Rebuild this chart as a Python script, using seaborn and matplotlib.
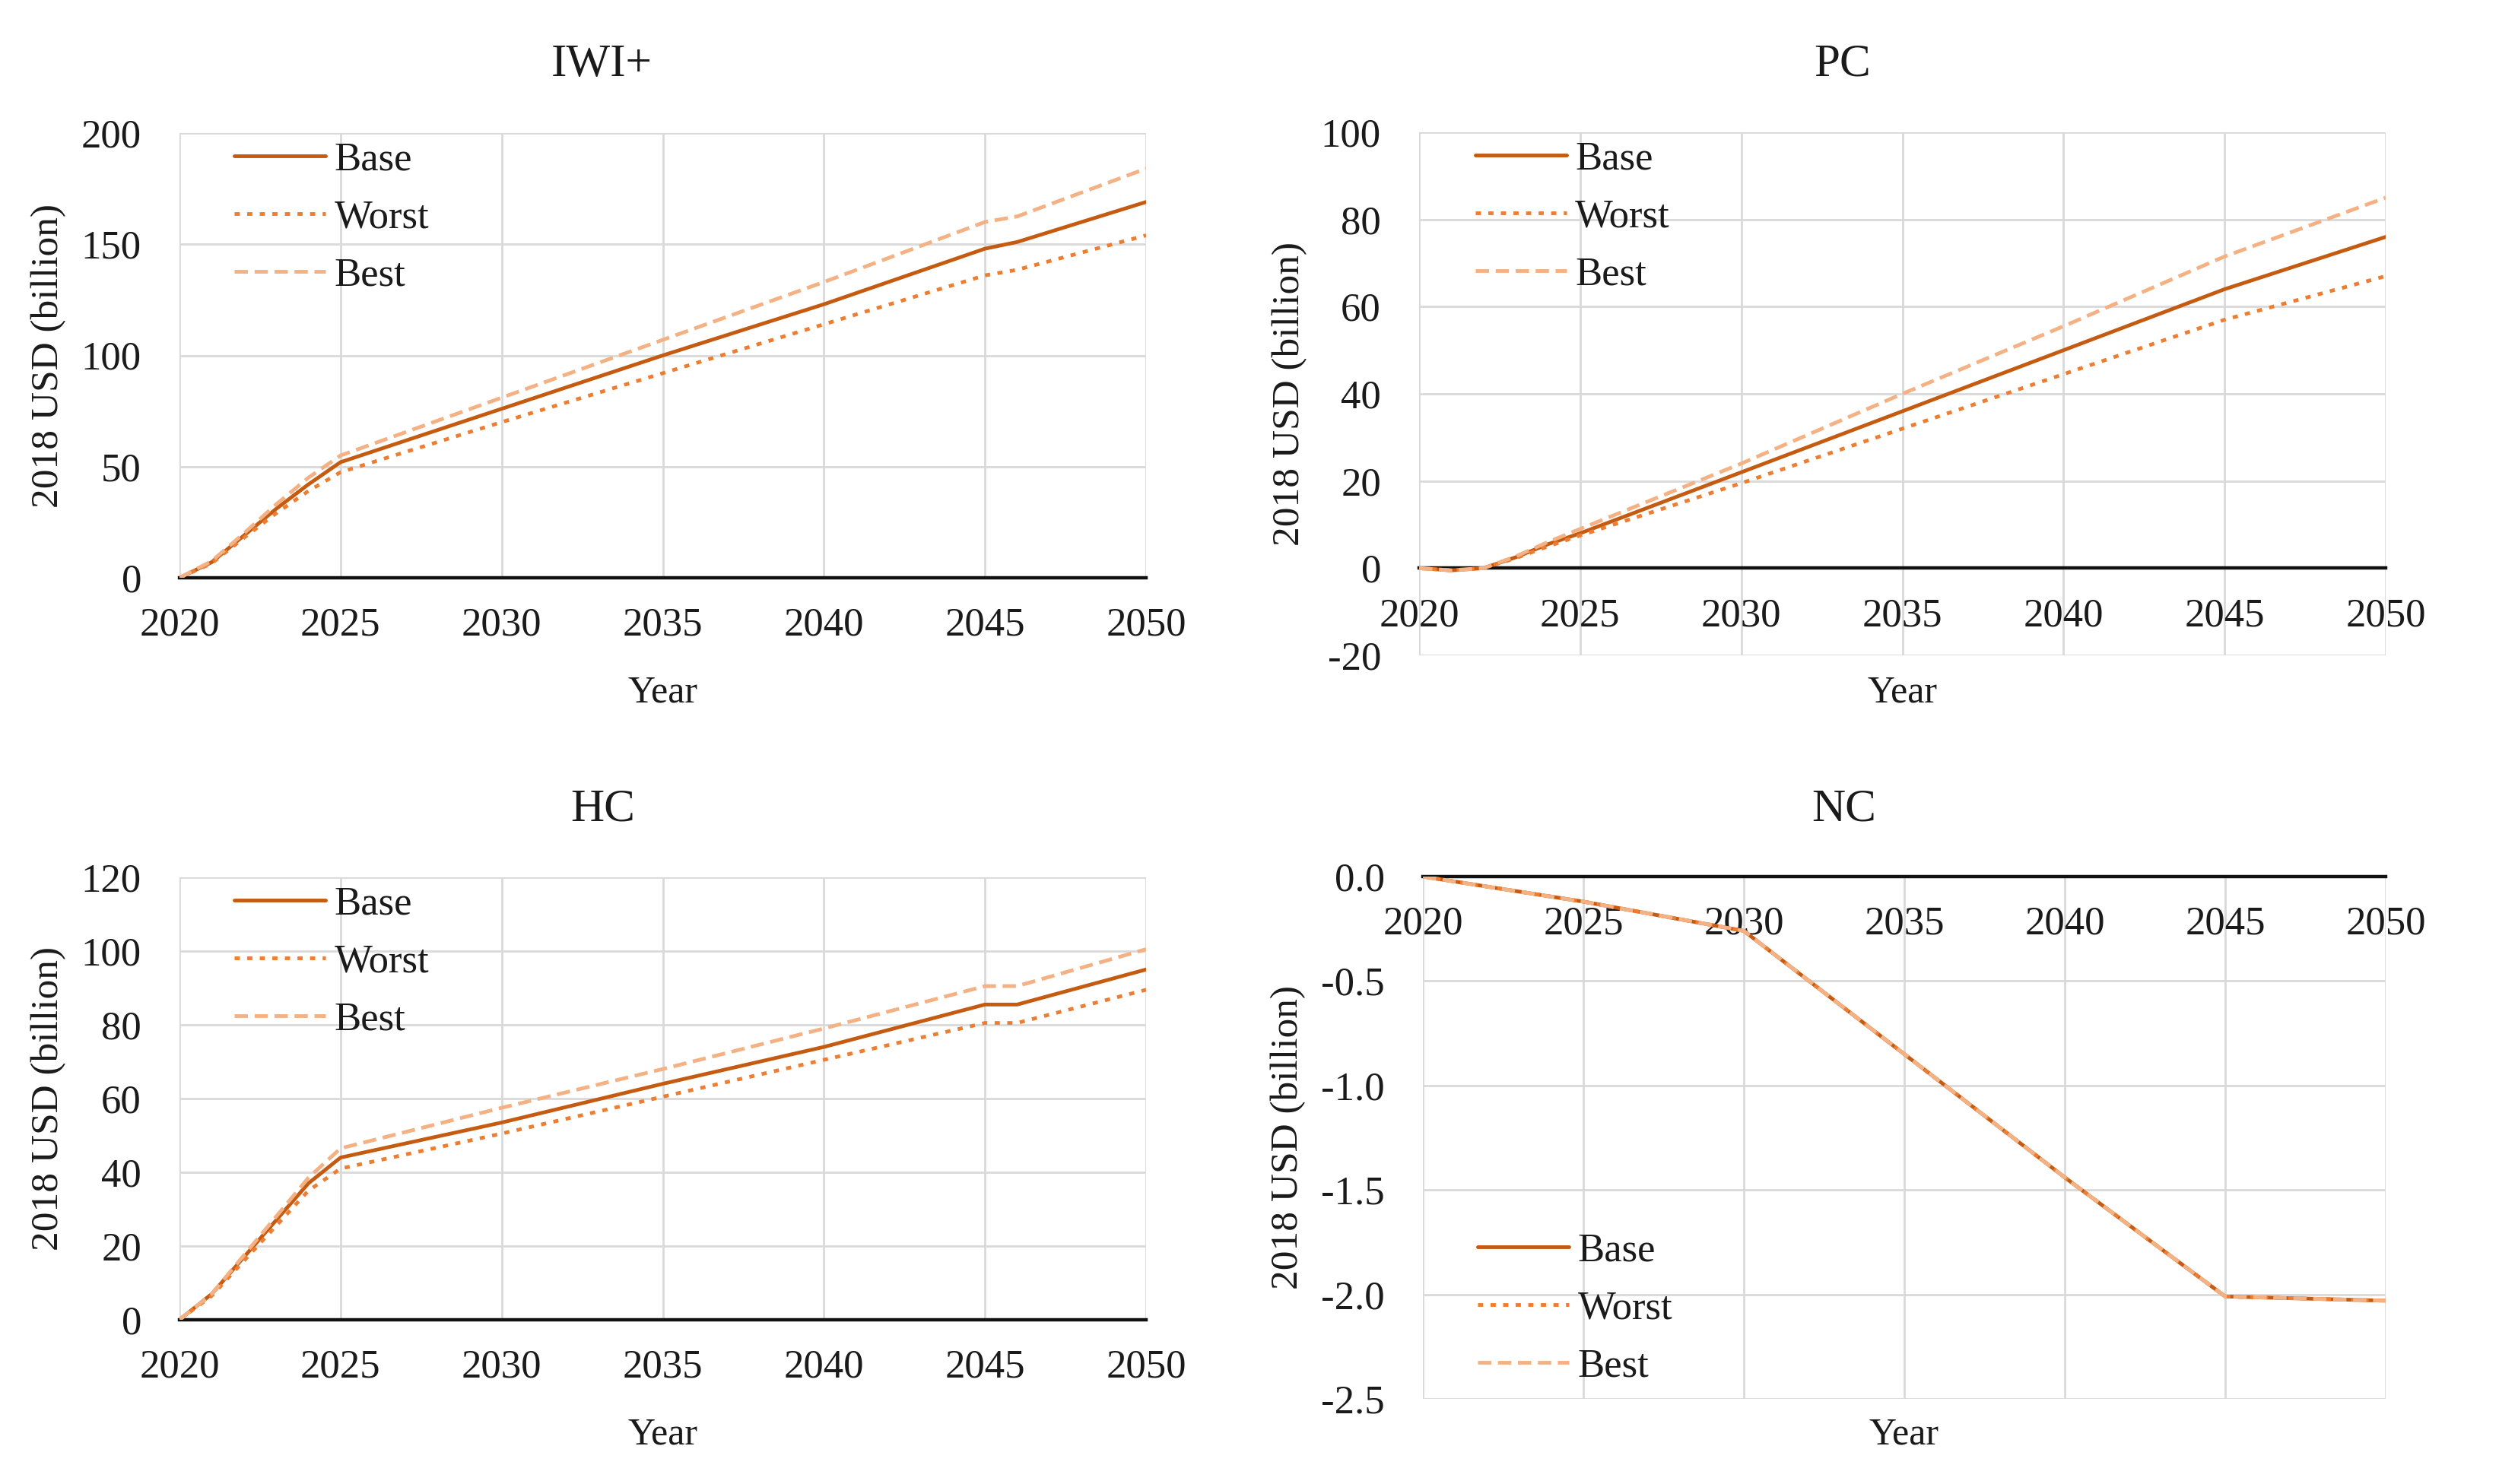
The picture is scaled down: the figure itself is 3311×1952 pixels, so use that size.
import matplotlib
matplotlib.use("Agg")
import matplotlib.pyplot as plt
import seaborn as sns

# ---------------- data ----------------
scenarios = ["Base", "Worst", "Best"]

iwi_years = [2020, 2021, 2022, 2023, 2024, 2025, 2030, 2035, 2040, 2045, 2046, 2050]
iwi_base = [0, 7, 19, 31, 42, 52, 76, 100, 123, 148, 151, 169]
iwi_worst = [0, 6.5, 18, 29, 39, 47.5, 70, 92, 114, 136, 138.5, 154]
iwi_best = [0, 7.5, 20, 33, 45, 55, 81, 107, 133, 160, 162.5, 184]

pc_years = [2020, 2021, 2022, 2023, 2024, 2025, 2030, 2035, 2040, 2045, 2050]
pc_base = [0, -0.5, 0, 2.5, 5.5, 8, 22, 36, 50, 64, 76]
pc_worst = [0, -0.5, 0, 2.3, 5, 7.5, 19.5, 32, 44.5, 57, 67]
pc_best = [0, -0.5, 0, 2.7, 6, 9, 24, 40, 55.5, 71.5, 85]

hc_years = [2020, 2021, 2022, 2023, 2024, 2025, 2030, 2035, 2040, 2045, 2046, 2050]
hc_base = [0, 7, 17, 27, 37, 44, 53.5, 64, 74, 85.5, 85.5, 95]
hc_worst = [0, 6.5, 16, 25.5, 35, 41, 50.5, 60.5, 70.5, 80.5, 80.5, 89.5]
hc_best = [0, 7, 17.5, 28, 38.5, 46.5, 57.5, 68, 79, 90.5, 90.5, 100.5]

nc_years = [2020, 2025, 2030, 2035, 2040, 2045, 2050]
nc_base = [0, -0.12, -0.26, -0.85, -1.44, -2.01, -2.03]
nc_worst = [0, -0.12, -0.26, -0.85, -1.44, -2.01, -2.03]
nc_best = [0, -0.12, -0.26, -0.85, -1.44, -2.01, -2.03]

x_ticks = [2020, 2025, 2030, 2035, 2040, 2045, 2050]
iwi_yticks = [0, 50, 100, 150, 200]
pc_yticks = [-20, 0, 20, 40, 60, 80, 100]
hc_yticks = [0, 20, 40, 60, 80, 100, 120]
nc_yticks = [-2.5, -2.0, -1.5, -1.0, -0.5, 0.0]

titles = ["IWI+", "PC", "HC", "NC"]
x_label = "Year"
y_label = "2018 USD (billion)"

# ---------------- style ----------------
sns.set_style("white")
plt.rcParams["font.family"] = ["Liberation Serif", "DejaVu Serif"]
plt.rcParams["axes.unicode_minus"] = False

colors = {"Base": "#C55A11", "Worst": "#ED7D31", "Best": "#F4B183"}
styles = {"Base": "-", "Worst": (0, (1.4, 2.0)), "Best": (0, (3.6, 1.8))}

W, H = 3312, 1952
fig = plt.figure(figsize=(W / 100, H / 100), dpi=100)


def rect(l, t, r, b):
    return [l / W, 1 - b / H, (r - l) / W, (b - t) / H]


panels = [
    dict(title=titles[0], years=iwi_years, data=[iwi_base, iwi_worst, iwi_best],
         box=(236, 175, 1507, 760), ylim=(0, 200), yticks=iwi_yticks, fmt="{:.0f}",
         leg=(0.0567, 0.98), title_xy=(791, 100), ylab_x=64, xlab_y=923),
    dict(title=titles[1], years=pc_years, data=[pc_base, pc_worst, pc_best],
         box=(1866, 174, 3137, 862), ylim=(-20, 100), yticks=pc_yticks, fmt="{:.0f}",
         leg=(0.058, 0.983), title_xy=(2423, 100), ylab_x=1696, xlab_y=923),
    dict(title=titles[2], years=hc_years, data=[hc_base, hc_worst, hc_best],
         box=(236, 1154, 1507, 1736), ylim=(0, 120), yticks=hc_yticks, fmt="{:.0f}",
         leg=(0.0567, 0.98), title_xy=(793, 1079), ylab_x=64, xlab_y=1899),
    dict(title=titles[3], years=nc_years, data=[nc_base, nc_worst, nc_best],
         box=(1871, 1153, 3137, 1840), ylim=(-2.5, 0.0), yticks=nc_yticks, fmt="{:.1f}",
         leg=(0.057, 0.318), title_xy=(2425, 1079), ylab_x=1694, xlab_y=1899),
]

text_color = "#1a1a1a"

for p in panels:
    l, t, r, b = p["box"]
    ax = fig.add_axes(rect(l, t, r, b))
    for name, vals in zip(scenarios, p["data"]):
        sns.lineplot(x=p["years"], y=vals, ax=ax, color=colors[name],
                     linestyle=styles[name], linewidth=3.5, label=name, zorder=3)
    ax.set_xlim(2020, 2050)
    ax.set_ylim(*p["ylim"])
    ax.set_xticks(x_ticks)
    ax.set_yticks(p["yticks"])
    ax.set_xticklabels([str(v) for v in x_ticks])
    ax.set_yticklabels([p["fmt"].format(v) for v in p["yticks"]])
    ax.set_xlabel("")
    ax.set_ylabel("")
    ax.grid(True, color="#D9D9D9", linewidth=2)
    ax.set_axisbelow(True)
    for s in ["left", "right", "top"]:
        ax.spines[s].set_visible(False)
    ax.spines["bottom"].set_position(("data", 0))
    ax.spines["bottom"].set_color("#111111")
    ax.spines["bottom"].set_linewidth(3.2)
    ax.tick_params(axis="x", length=0, labelsize=38, pad=28, labelcolor=text_color)
    ax.tick_params(axis="y", length=0, labelsize=38, pad=36, labelcolor=text_color)
    ax.legend(loc="upper left", bbox_to_anchor=p["leg"], frameon=False, fontsize=38,
              handlelength=2.27, handletextpad=0.22, labelspacing=0.53,
              borderpad=0, borderaxespad=0, labelcolor=text_color)

    tx, ty = p["title_xy"]
    fig.text(tx / W, 1 - ty / H, p["title"], ha="center", va="baseline",
             fontsize=44, color=text_color)
    fig.text(p["ylab_x"] / W, 1 - ((t + b) / 2) / H, y_label, rotation=90,
             ha="center", va="center", fontsize=37, color=text_color)
    fig.text(((l + r) / 2) / W, 1 - p["xlab_y"] / H, x_label, ha="center",
             va="baseline", fontsize=36, color=text_color)

fig.savefig("out.png", dpi=100)
